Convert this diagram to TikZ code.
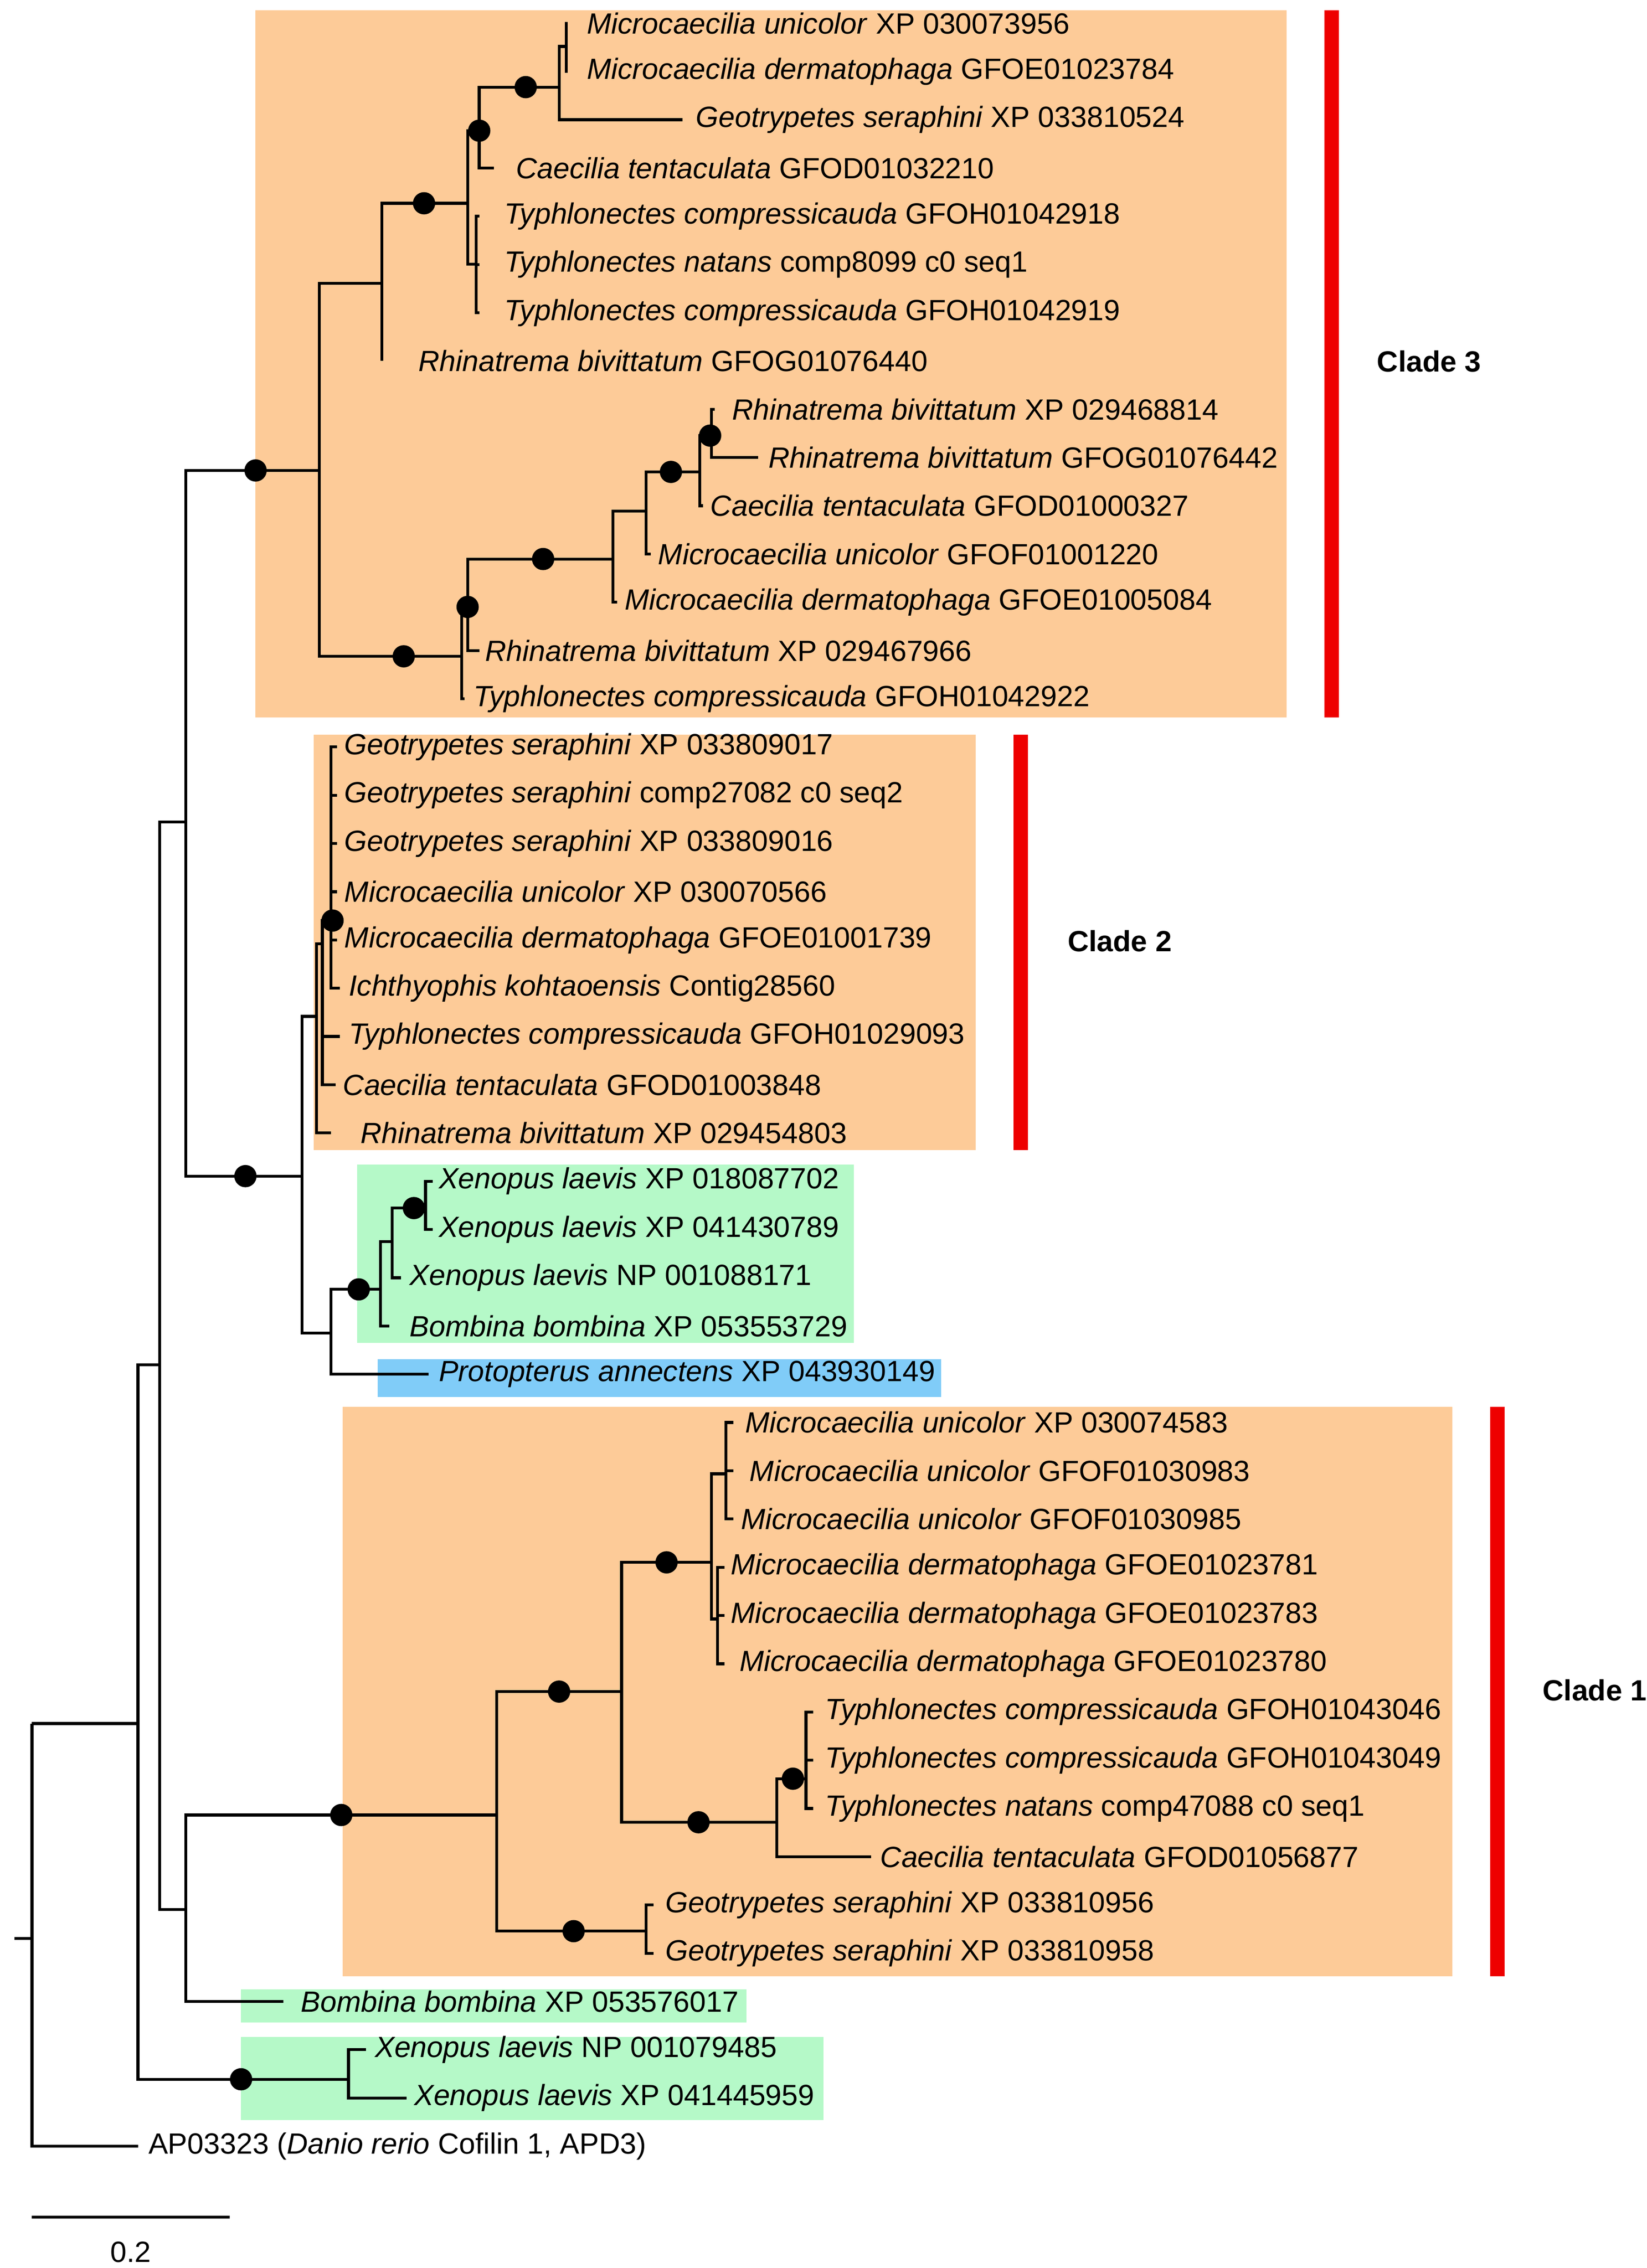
\documentclass[tikz,border=0pt]{standalone}
\usepackage{fontspec}
\setmainfont{Liberation Sans}
\definecolor{orb}{HTML}{FDCB98}
\definecolor{grb}{HTML}{B5F9C8}
\definecolor{blb}{HTML}{80CCF8}
\definecolor{rbar}{HTML}{EE0000}
\begin{document}
\begin{tikzpicture}[x=0.03cm,y=-0.03cm,
  lab/.style={anchor=west,inner sep=0pt,font=\fontsize{17.2}{20}\selectfont},
  br/.style={line width=1.7pt},
  dot/.style={circle,fill=black,inner sep=0pt,minimum size=0.46cm}]
\useasboundingbox (0,0) rectangle (1134,1562);
% boxes
\fill[orb] (176,7) rectangle (886,494);
\fill[orb] (216,506) rectangle (672,792);
\fill[orb] (236,969) rectangle (1000,1361);
\fill[grb] (246,802) rectangle (588,925);
\fill[grb] (166,1370) rectangle (514,1393);
\fill[grb] (166,1403) rectangle (567,1460);
\fill[blb] (260,936) rectangle (648,962);
\fill[rbar] (912,7) rectangle (922,494);
\fill[rbar] (698,506) rectangle (708,792);
\fill[rbar] (1026,969) rectangle (1036,1361);
\node[lab,font=\fontsize{17.2}{20}\selectfont\bfseries] (c3) at (948,249) {Clade 3};
\node[lab,font=\fontsize{17.2}{20}\selectfont\bfseries] (c2) at (735,648) {Clade 2};
\node[lab,font=\fontsize{17.2}{20}\selectfont\bfseries] (c1) at (1062,1164) {Clade 1};
\newcommand\lf[4]{\coordinate (l#1) at (#2,{16+33.23*#1}); \node[lab] (t#1) at (#3,{16+33.23*#1}) {#4};}
\lf{0}{391}{404}{\textit{Microcaecilia unicolor} XP 030073956}
\lf{1}{391}{404}{\textit{Microcaecilia dermatophaga} GFOE01023784}
\lf{2}{470}{479}{\textit{Geotrypetes seraphini} XP 033810524}
\lf{3}{340}{355}{\textit{Caecilia tentaculata} GFOD01032210}
\lf{4}{330}{347}{\textit{Typhlonectes compressicauda} GFOH01042918}
\lf{5}{330}{347}{\textit{Typhlonectes natans} comp8099 c0 seq1}
\lf{6}{330}{347}{\textit{Typhlonectes compressicauda} GFOH01042919}
\lf{7}{263}{288}{\textit{Rhinatrema bivittatum} GFOG01076440}
\lf{8}{492}{504}{\textit{Rhinatrema bivittatum} XP 029468814}
\lf{9}{522}{529}{\textit{Rhinatrema bivittatum} GFOG01076442}
\lf{10}{484}{489}{\textit{Caecilia tentaculata} GFOD01000327}
\lf{11}{448}{453}{\textit{Microcaecilia unicolor} GFOF01001220}
\lf{12}{425}{430}{\textit{Microcaecilia dermatophaga} GFOE01005084}
\lf{13}{330}{334}{\textit{Rhinatrema bivittatum} XP 029467966}
\lf{14}{320}{326}{\textit{Typhlonectes compressicauda} GFOH01042922}
\lf{15}{232}{237}{\textit{Geotrypetes seraphini} XP 033809017}
\lf{16}{232}{237}{\textit{Geotrypetes seraphini} comp27082 c0 seq2}
\lf{17}{232}{237}{\textit{Geotrypetes seraphini} XP 033809016}
\lf{18}{232}{237}{\textit{Microcaecilia unicolor} XP 030070566}
\lf{19}{232}{237}{\textit{Microcaecilia dermatophaga} GFOE01001739}
\lf{20}{234}{240}{\textit{Ichthyophis kohtaoensis} Contig28560}
\lf{21}{234}{240}{\textit{Typhlonectes compressicauda} GFOH01029093}
\lf{22}{231}{236}{\textit{Caecilia tentaculata} GFOD01003848}
\lf{23}{228}{248}{\textit{Rhinatrema bivittatum} XP 029454803}
\lf{24}{298}{302}{\textit{Xenopus laevis} XP 018087702}
\lf{25}{298}{302}{\textit{Xenopus laevis} XP 041430789}
\lf{26}{276}{282}{\textit{Xenopus laevis} NP 001088171}
\lf{27}{268}{282}{\textit{Bombina bombina} XP 053553729}
\lf{28}{295}{302}{\textit{Protopterus annectens} XP 043930149}
\lf{29}{505}{513}{\textit{Microcaecilia unicolor} XP 030074583}
\lf{30}{505}{516}{\textit{Microcaecilia unicolor} GFOF01030983}
\lf{31}{505}{510}{\textit{Microcaecilia unicolor} GFOF01030985}
\lf{32}{499}{503}{\textit{Microcaecilia dermatophaga} GFOE01023781}
\lf{33}{499}{503}{\textit{Microcaecilia dermatophaga} GFOE01023783}
\lf{34}{499}{509}{\textit{Microcaecilia dermatophaga} GFOE01023780}
\lf{35}{560}{568}{\textit{Typhlonectes compressicauda} GFOH01043046}
\lf{36}{560}{568}{\textit{Typhlonectes compressicauda} GFOH01043049}
\lf{37}{560}{568}{\textit{Typhlonectes natans} comp47088 c0 seq1}
\lf{38}{600}{606}{\textit{Caecilia tentaculata} GFOD01056877}
\lf{39}{450}{458}{\textit{Geotrypetes seraphini} XP 033810956}
\lf{40}{450}{458}{\textit{Geotrypetes seraphini} XP 033810958}
\lf{41}{195}{207}{\textit{Bombina bombina} XP 053576017}
\lf{42}{252}{258}{\textit{Xenopus laevis} NP 001079485}
\lf{43}{280}{285}{\textit{Xenopus laevis} XP 041445959}
\lf{44}{95}{102}{AP03323 (\textit{Danio rerio} Cofilin 1, APD3)}
% internal nodes
\coordinate (R) at (22,1187); \coordinate (N1) at (95,1187); \coordinate (X) at (240,1432);
\coordinate (N2) at (110,940); \coordinate (N3) at (128,566); \coordinate (N4) at (128,1315);
\coordinate (A3) at (220,324); \coordinate (N5) at (208,810);
\coordinate (C3a) at (263,195); \coordinate (C3b) at (318,452); \coordinate (E) at (322,140);
\coordinate (G) at (330,90); \coordinate (T) at (328,182); \coordinate (H) at (385,60); \coordinate (I) at (390,32);
\coordinate (K) at (322,420); \coordinate (L) at (422,385); \coordinate (M) at (445,352);
\coordinate (N) at (482,325); \coordinate (O) at (490,300);
\coordinate (Cl2) at (218,700); \coordinate (P) at (222,650); \coordinate (Q) at (228,634);
\coordinate (N6) at (228,918); \coordinate (X2) at (262,888); \coordinate (X3) at (270,855); \coordinate (X4) at (293,832);
\coordinate (Cl1) at (342,1250); \coordinate (S) at (428,1165); \coordinate (T2) at (445,1330);
\coordinate (U) at (490,1076); \coordinate (V) at (535,1255); \coordinate (U1) at (500,1015);
\coordinate (U2) at (494,1115); \coordinate (W) at (555,1225);
\coordinate (root) at (10,1335);
\draw[br] (root) -- (22,1335);
\foreach \p/\c in {R/l44,R/N1,N1/N2,N1/X,X/l42,X/l43,N2/N3,N2/N4,N3/A3,N3/N5,A3/C3a,A3/C3b,
 C3a/l7,C3a/E,E/G,E/T,G/H,G/l3,H/I,H/l2,I/l0,I/l1,T/l4,T/l5,T/l6,C3b/K,C3b/l14,K/L,K/l13,
 L/M,L/l12,M/N,M/l11,N/O,N/l10,O/l8,O/l9,N5/Cl2,N5/N6,Cl2/P,Cl2/l23,P/Q,P/l21,P/l22,
 Q/l15,Q/l16,Q/l17,Q/l18,Q/l19,Q/l20,N6/X2,N6/l28,X2/X3,X2/l27,X3/X4,X3/l26,X4/l24,X4/l25,
 N4/Cl1,N4/l41,Cl1/S,Cl1/T2,T2/l39,T2/l40,S/U,S/V,U/U1,U/U2,U1/l29,U1/l30,U1/l31,
 U2/l32,U2/l33,U2/l34,V/W,V/l38,W/l35,W/l36,W/l37}
 \draw[br] (\p) |- (\c);
\foreach \x/\y [count=\i] in {176/324,292/140,330/90,362/60,278/452,322/418,374/385,462/325,489/300,
 169/810,229/634,247/888,285/832,235/1250,385/1165,395/1330,459/1076,481/1255,546/1225,166/1432}
 \node[dot] (d\i) at (\x,\y) {};
% scale bar
\coordinate (sa) at (22,1527); \coordinate (sb) at (158,1527);
\draw[br] (sa) -- (sb);
\node[lab,anchor=center] (sl) at (90,1551) {0.2};
\end{tikzpicture}
\end{document}
